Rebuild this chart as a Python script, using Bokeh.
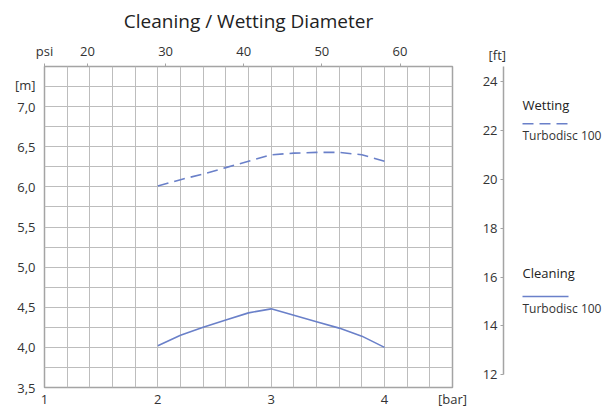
from bokeh.plotting import figure
from bokeh.models import FixedTicker, Range1d, Label, LinearAxis
from bokeh.layouts import row
from bokeh.embed import file_html
from bokeh.resources import INLINE

# ---------------- data ----------------
pressure_bar = [2.0, 2.2, 2.4, 2.6, 2.8, 3.0, 3.2, 3.4, 3.6, 3.8, 4.0]
wetting_m = [6.01, 6.09, 6.16, 6.24, 6.32, 6.40, 6.42, 6.43, 6.43, 6.40, 6.32]
cleaning_m = [4.02, 4.15, 4.25, 4.34, 4.43, 4.48, 4.40, 4.32, 4.24, 4.14, 4.00]

bar_ticks = [1, 2, 3, 4]
bar_labels = ["1", "2", "3", "4"]
psi_ticks = [20, 30, 40, 50, 60]
psi_labels = ["20", "30", "40", "50", "60"]
m_ticks = [3.5, 4.0, 4.5, 5.0, 5.5, 6.0, 6.5, 7.0]
m_labels = ["3,5", "4,0", "4,5", "5,0", "5,5", "6,0", "6,5", "7,0"]
ft_ticks = [12, 14, 16, 18, 20, 22, 24]
ft_labels = ["12", "14", "16", "18", "20", "22", "24"]

PSI_PER_BAR = 14.5038
M_PER_FT = 0.3048
X_MIN, X_MAX = 1.0, 4.6
Y_MIN, Y_MAX = 3.5, 7.5

FONT = "Open Sans"
TXT = "#333333"
GRID = "#bdbdbd"
BORDER = "#a4a4a4"
BLUE = "#6a80c9"

H = 410

# ---------------- main figure ----------------
p = figure(width=472, height=H, x_range=Range1d(X_MIN, X_MAX), y_range=Range1d(Y_MIN, Y_MAX),
           output_backend="svg", toolbar_location=None,
           min_border_left=44, min_border_right=20, min_border_top=65, min_border_bottom=22,
           title="Cleaning / Wetting Diameter")
p.title.align = "center"
p.title.text_font = FONT
p.title.text_font_size = "19px"
p.title.text_font_style = "normal"
p.title.text_color = "#222222"
p.title.standoff = 10

p.outline_line_color = BORDER
p.outline_line_width = 1.5
p.background_fill_color = "white"
p.border_fill_color = "white"

# grid
p.xgrid[0].ticker = FixedTicker(ticks=[X_MIN + 0.2 * i for i in range(19)])
p.ygrid[0].ticker = FixedTicker(ticks=[Y_MIN + 0.25 * i for i in range(17)])
p.grid.grid_line_color = GRID
p.grid.grid_line_width = 1

def style_axis(ax, size="13px"):
    ax.major_label_text_font = FONT
    ax.major_label_text_font_size = size
    ax.major_label_text_color = TXT
    ax.minor_tick_line_color = None
    ax.minor_tick_out = 0
    ax.minor_tick_in = 0

# bottom axis (bar)
xb = p.xaxis[0]
xb.ticker = FixedTicker(ticks=bar_ticks + [X_MAX])
ov = {t: l for t, l in zip(bar_ticks, bar_labels)}
ov[X_MAX] = "[bar]"
xb.major_label_overrides = ov
xb.axis_line_color = None
xb.major_tick_line_color = None
xb.major_tick_out = 0
xb.major_tick_in = 0
xb.major_label_standoff = 2
style_axis(xb)

# left axis (m)
M_UNIT_POS = 7.27
yl = p.yaxis[0]
yl.ticker = FixedTicker(ticks=m_ticks + [M_UNIT_POS])
ov = {t: l for t, l in zip(m_ticks, m_labels)}
ov[M_UNIT_POS] = "[m]"
yl.major_label_overrides = ov
yl.axis_line_color = None
yl.major_tick_line_color = None
yl.major_tick_out = 0
yl.major_tick_in = 0
yl.major_label_standoff = 9
style_axis(yl)

# top axis (psi)
p.extra_x_ranges = {"psi": Range1d(X_MIN * PSI_PER_BAR, X_MAX * PSI_PER_BAR)}
PSI_UNIT_POS = X_MIN * PSI_PER_BAR + 0.01
top = LinearAxis(x_range_name="psi", ticker=FixedTicker(ticks=[PSI_UNIT_POS] + psi_ticks))
ov = {t: l for t, l in zip(psi_ticks, psi_labels)}
ov[PSI_UNIT_POS] = "psi"
top.major_label_overrides = ov
top.axis_line_color = None
top.major_tick_line_color = BORDER
top.major_tick_out = 3
top.major_tick_in = 0
top.major_label_standoff = 4
style_axis(top)
p.add_layout(top, "above")

# curves
p.line(pressure_bar, wetting_m, line_color=BLUE, line_width=1.6, line_dash="11 6")
p.line(pressure_bar, cleaning_m, line_color=BLUE, line_width=1.6)

# ---------------- right panel: ft axis + legend ----------------
p2 = figure(width=142, height=H, x_range=Range1d(0, 111), y_range=p.y_range,
            x_axis_location=None, y_axis_location=None,
            output_backend="svg", toolbar_location=None,
            min_border_left=31, min_border_right=0, min_border_top=65, min_border_bottom=22,
            title="[ft]")
p2.title.align = "left"
p2.title.offset = -15
p2.title.standoff = 5
p2.title.text_font = FONT
p2.title.text_font_size = "13px"
p2.title.text_font_style = "normal"
p2.title.text_color = TXT
p2.outline_line_color = None
p2.grid.grid_line_color = None

p2.extra_y_ranges = {"ft": Range1d(Y_MIN / M_PER_FT, Y_MAX / M_PER_FT)}
fta = LinearAxis(y_range_name="ft", ticker=FixedTicker(ticks=ft_ticks),
                 bounds=(ft_ticks[0], Y_MAX / M_PER_FT))
fta.major_label_overrides = {t: l for t, l in zip(ft_ticks, ft_labels)}
fta.axis_line_color = BORDER
fta.axis_line_width = 1.5
fta.major_tick_line_color = BORDER
fta.major_tick_out = 3
fta.major_tick_in = 0
fta.major_label_standoff = 3
style_axis(fta)
p2.add_layout(fta, "left")

# legend (custom, grouped headings)
LX0, LX1 = 19, 65
legend_items = [
    ("Wetting", 7.02, 6.787, 6.644, "11 6"),
    ("Cleaning", 4.93, 4.634, 4.482, "solid"),
]
for head, yh, yl_, yt, dash in legend_items:
    p2.add_layout(Label(x=LX0, y=yh, text=head, text_baseline="middle", text_font=FONT,
                        text_font_size="13px", text_color="#222222"))
    p2.line([LX0, LX1], [yl_, yl_], line_color=BLUE, line_width=1.6, line_dash=dash)
    p2.add_layout(Label(x=LX0, y=yt, text="Turbodisc 100", text_baseline="middle", text_font=FONT,
                        text_font_size="12px", text_color=TXT))

layout = row(p, p2)
open("out.html", "w").write(file_html(layout, INLINE))
